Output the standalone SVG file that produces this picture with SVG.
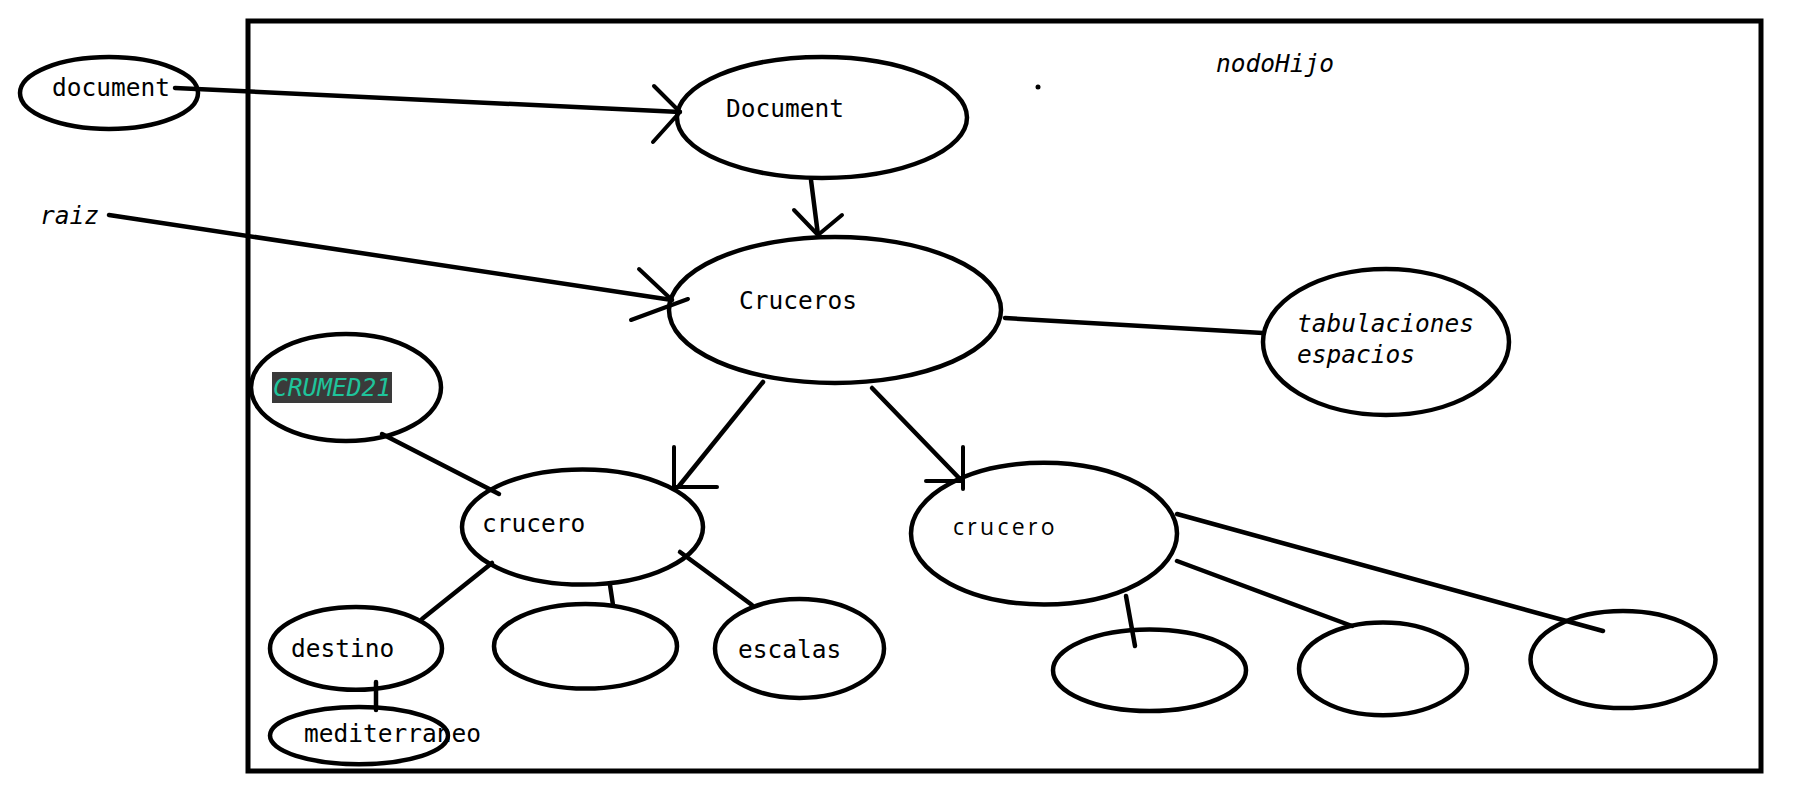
<svg xmlns="http://www.w3.org/2000/svg" width="1793" height="795" viewBox="0 0 1793 795">
<style>
.n{fill:none;stroke:#000;stroke-width:4.5}
.c{fill:none;stroke:#000;stroke-width:4.5;stroke-linecap:round;stroke-linejoin:round}
.h{fill:none;stroke:#000;stroke-width:4;stroke-linecap:round;stroke-linejoin:round}
.t{font-family:"DejaVu Sans Mono","Liberation Mono",monospace;font-size:24.5px;fill:#000}
.i{font-style:italic}
.s{font-family:"Open Sans","Noto Sans",sans-serif;font-size:23px;letter-spacing:3.3px;fill:#000}
</style>
<rect x="0" y="0" width="1793" height="795" fill="#fff"/>
<rect x="248" y="21" width="1513" height="750" fill="none" stroke="#000" stroke-width="5"/>
<g id="connectors">
<line class="c" x1="175" y1="88" x2="680" y2="112"/>
<polyline class="h" points="654,86 680,112 653,142"/>
<line class="c" x1="811" y1="180" x2="818" y2="235"/>
<polyline class="h" points="794,210 818,235 842,215"/>
<line class="c" x1="109" y1="215" x2="672" y2="300"/>
<line class="h" x1="639" y1="269" x2="672" y2="300"/>
<line class="h" x1="631" y1="320" x2="688" y2="299"/>
<line class="c" x1="1005" y1="318" x2="1263" y2="333"/>
<line class="c" x1="763" y1="382" x2="679" y2="486"/>
<line class="h" x1="674" y1="447" x2="674" y2="489"/>
<line class="h" x1="674" y1="487" x2="717" y2="487"/>
<line class="c" x1="872" y1="388" x2="960" y2="479"/>
<line class="h" x1="963" y1="447" x2="963" y2="489"/>
<line class="h" x1="926" y1="481" x2="963" y2="481"/>
<line class="c" x1="382" y1="434" x2="499" y2="494"/>
<line class="c" x1="492" y1="563" x2="422" y2="619"/>
<line class="c" x1="376" y1="682" x2="376" y2="710"/>
<line class="c" x1="610" y1="585" x2="613" y2="605"/>
<line class="c" x1="680" y1="552" x2="752" y2="605"/>
<line class="c" x1="1126" y1="596" x2="1135" y2="646"/>
<line class="c" x1="1177" y1="561" x2="1352" y2="626"/>
<line class="c" x1="1177" y1="514" x2="1603" y2="631"/>
</g>
<circle cx="1038" cy="87" r="2.5" fill="#000"/>
<text class="t i" x="1216" y="72">nodoHijo</text>
<text class="t i" x="40" y="224">raiz</text>
<g id="n-document">
<ellipse class="n" cx="109" cy="93" rx="89" ry="36"/>
<text class="t" x="52" y="96">document</text>
</g>
<g id="n-Document">
<ellipse class="n" cx="822" cy="117.5" rx="145" ry="60.5"/>
<text class="t" x="726" y="117">Document</text>
</g>
<g id="n-Cruceros">
<ellipse class="n" cx="835" cy="310" rx="166" ry="73"/>
<text class="t" x="739" y="309">Cruceros</text>
</g>
<g id="n-tabulaciones">
<ellipse class="n" cx="1386" cy="342" rx="123" ry="73"/>
<text class="t i" x="1297" y="332">tabulaciones</text>
<text class="t i" x="1297" y="363">espacios</text>
</g>
<g id="n-CRUMED21">
<ellipse class="n" cx="346" cy="387.5" rx="95" ry="53.5"/>
<rect x="272" y="372" width="120" height="31" fill="#3a3a3a"/>
<text class="t i" x="273" y="396" style="fill:#1fc49b">CRUMED21</text>
</g>
<g id="n-crucero1">
<ellipse class="n" cx="582.5" cy="527" rx="120.5" ry="57.6"/>
<text class="t" x="482" y="531.5">crucero</text>
</g>
<g id="n-crucero2">
<ellipse class="n" cx="1044" cy="533.6" rx="133" ry="70.9"/>
<text class="s" x="953" y="534.5">crucero</text>
</g>
<g id="n-destino">
<ellipse class="n" cx="356" cy="648.4" rx="86" ry="41.3"/>
<text class="t" x="291" y="657">destino</text>
</g>
<g id="n-mediterraneo">
<ellipse class="n" cx="359" cy="735.6" rx="89" ry="28.6"/>
<text class="t" x="304" y="741.5">mediterraneo</text>
</g>
<g id="n-empty1">
<ellipse class="n" cx="585.5" cy="646.3" rx="91.5" ry="42.3"/>
</g>
<g id="n-escalas">
<ellipse class="n" cx="799.5" cy="648.4" rx="84.5" ry="49.5"/>
<text class="t" x="738" y="658">escalas</text>
</g>
<g id="n-empty2">
<ellipse class="n" cx="1149.5" cy="670.3" rx="96.5" ry="40.8"/>
</g>
<g id="n-empty3">
<ellipse class="n" cx="1383" cy="668.8" rx="84" ry="46.4"/>
</g>
<g id="n-empty4">
<ellipse class="n" cx="1623" cy="659.6" rx="92.5" ry="48.5"/>
</g>
</svg>
